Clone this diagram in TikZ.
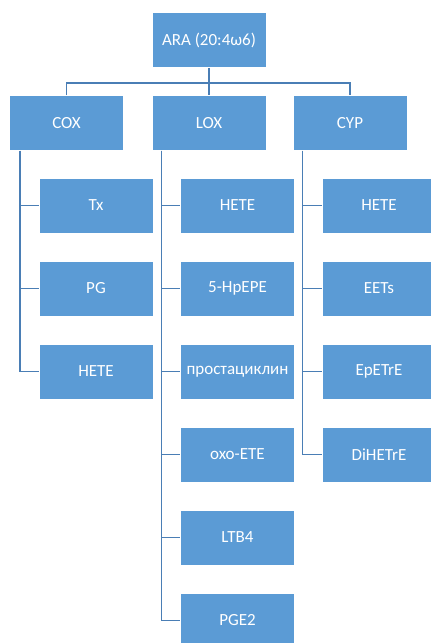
\documentclass[tikz,border=0pt]{standalone}
\usepackage{fontspec}
\setmainfont{Carlito}
\definecolor{boxblue}{HTML}{5B9BD5}
\definecolor{lineblue}{HTML}{4A7EB5}
\tikzset{
  blk/.style={rectangle,fill=boxblue,draw=white,line width=.8pt,
    minimum width=114pt,minimum height=55pt,inner sep=1pt,
    text=white,font=\fontsize{17}{20}\selectfont},
  conn/.style={draw=lineblue,line width=1.5pt}
}
\begin{document}
\begin{tikzpicture}[x=1pt,y=-1pt]
  \useasboundingbox[fill=white] (0,0) rectangle (431,643);
  \clip (0,0) rectangle (431,643);
  \node[blk] (ara) at (209,40) {ARA (20:4ω6)};
  \node[blk] (cox) at (66.5,123) {COX};
  \node[blk] (lox) at (209,123) {LOX};
  \node[blk] (cyp) at (350,123) {CYP};
  \coordinate (bus) at (209,83);
  \draw[conn] (ara.south) -- (lox.north);
  \draw[conn] (cox.north) |- (bus) -| (cyp.north);
  \node[blk] (coxtx) at (96,205.5) {Tx};
  \node[blk] (coxpg) at (96,288.5) {PG};
  \node[blk] (coxhete) at (96,371.5) {HETE};
  \node[blk] (loxhete) at (237.5,205.5) {HETE};
  \node[blk] (loxhpepe) at (237.5,288.5) {5-HpEPE};
  \node[blk] (loxpgi) at (237.5,371.5) {простациклин};
  \node[blk] (loxoxo) at (237.5,454.5) {oxo-ETE};
  \node[blk] (loxltb) at (237.5,537.5) {LTB4};
  \node[blk] (loxpge) at (237.5,620.5) {PGE2};
  \node[blk] (cyphete) at (379,205.5) {HETE};
  \node[blk] (cypeet) at (379,288.5) {EETs};
  \node[blk] (cypepetre) at (379,371.5) {EpETrE};
  \node[blk] (cypdihetre) at (379,454.5) {DiHETrE};
  \foreach \kid in {coxtx,coxpg,coxhete}
    \draw[conn] ([xshift=11pt]cox.south west) |- (\kid.west);
  \foreach \kid in {loxhete,loxhpepe,loxpgi,loxoxo,loxltb,loxpge}
    \draw[conn] ([xshift=10pt]lox.south west) |- (\kid.west);
  \foreach \kid in {cyphete,cypeet,cypepetre,cypdihetre}
    \draw[conn] ([xshift=10pt]cyp.south west) |- (\kid.west);
\end{tikzpicture}
\end{document}
